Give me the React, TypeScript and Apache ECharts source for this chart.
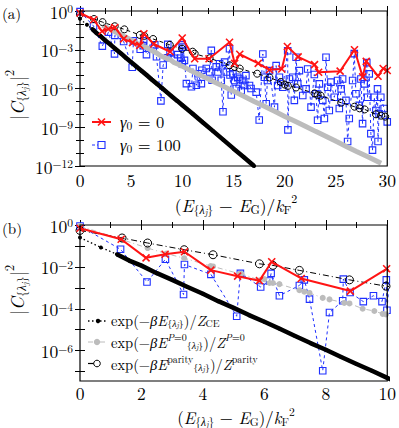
import React, { useEffect, useRef } from 'react';
import * as echarts from 'echarts';

const FONT = 'Latin Modern Roman, Liberation Serif, serif';
const RED = '#ff1414';
const BLUE = '#1f30ff';
const GRAY = '#bcbcbc';

// |C|^2 values: [E, value]
const redPts: [number, number][] = [
  [0, 0.7], [1.34, 0.21], [2.15, 0.027], [2.77, 0.04], [3.4, 0.053], [4.26, 0.007], [5.13, 0.0036],
  [5.84, 0.0022], [6.24, 0.0175], [7.2, 0.0028], [8.8, 0.0007], [9.98, 0.0081], [11.2, 2e-4],
  [12.6, 2e-4], [14.6, 3.8e-3], [15.1, 8.9e-5], [15.6, 4.5e-4], [17.4, 8.9e-5], [18.5, 2.8e-5],
  [19.7, 3.2e-5], [20.25, 1.8e-3], [21.3, 2.8e-4], [22.9, 7e-5], [23.3, 1.8e-5], [25.4, 2.2e-5],
  [26.8, 1e-3], [27.6, 7.9e-6], [27.95, 1.26e-4], [29.1, 8.9e-6], [29.6, 3.5e-5], [30.0, 2.5e-5],
];

const bluePts: [number, number][] = [
  [0, 0.9], [1.32, 0.069], [2.18, 0.0019], [2.78, 0.023], [3.37, 4.8e-4], [3.4, 0.013], [4.26, 0.0044],
  [5.1, 4.4e-5], [5.22, 0.0049], [5.88, 0.0011], [6.17, 0.0021], [6.22, 0.0049], [6.49, 4.2e-4],
  [7.14, 0.0013], [7.3, 0.0024], [7.47, 2.9e-4], [7.9, 1.1e-7], [8.12, 6.6e-5], [8.55, 2.4e-4],
  [8.57, 0.0026], [8.79, 6e-4], [9.22, 2.2e-4], [9.55, 4.2e-4], [9.83, 2.2e-4], [9.97, 0.0024],
  [9.99, 8.5e-5], [10.06, 1.6e-3], [10.2, 1.5e-4], [10.39, 2.4e-6], [10.88, 1.35e-6], [11.03, 3.5e-5],
  [11.36, 1.8e-6], [11.52, 1.4e-5], [11.85, 2.4e-6], [11.9, 2.6e-5], [12.33, 3.5e-5], [12.66, 1.9e-5],
  [12.82, 8.9e-4], [12.9, 4.4e-6], [13.3, 4.7e-5], [13.47, 1.9e-5], [13.63, 8.3e-5], [13.79, 4.4e-6],
  [13.96, 1.6e-8], [14.12, 1.1e-4], [14.28, 1.9e-5], [14.6, 1.2e-3], [14.65, 1.1e-5], [14.77, 3.1e-7],
  [14.93, 1.35e-5], [15.1, 4.2e-6], [15.26, 1e-6], [15.4, 7.4e-6], [15.58, 5.5e-6], [15.74, 7e-7],
  [15.9, 4.2e-6], [16.06, 1.7e-6], [16.2, 1e-5], [16.55, 1.7e-6], [16.7, 1e-6], [17.2, 5.2e-7],
  [17.5, 3.6e-9], [17.85, 4.7e-4], [18.0, 7.4e-6], [18.18, 6.6e-8], [18.3, 4.2e-6], [18.5, 2.4e-5],
  [18.99, 3.6e-8], [19.15, 5.9e-5], [19.3, 1.7e-6], [19.47, 7.4e-6], [19.8, 1.26e-6], [20.28, 8.3e-4],
  [20.3, 6.3e-10], [20.45, 5.5e-6], [20.77, 7.4e-6], [20.93, 1.2e-7], [21.1, 2.6e-4], [21.26, 2.3e-6],
  [21.42, 2.4e-5], [21.75, 2.9e-7], [22.07, 9.3e-7], [22.23, 3.2e-5], [22.56, 3.6e-8], [22.88, 1.2e-5],
  [23.04, 3.9e-7], [23.2, 3.5e-9], [23.37, 2.3e-6], [23.7, 1.2e-7], [23.86, 4.7e-9], [24.02, 2.6e-4],
  [24.18, 1.26e-6], [24.34, 2e-8], [24.5, 3.1e-6], [24.83, 2.1e-7], [25.15, 4.2e-6], [25.32, 2.8e-8],
  [25.5, 9.3e-7], [25.64, 5.5e-6], [25.97, 1.2e-7], [26.13, 7.9e-11], [26.29, 4.7e-9], [26.62, 4.2e-6],
  [26.78, 5e-4], [26.94, 3.9e-7], [27.27, 4.9e-8], [27.43, 5.5e-6], [27.59, 1.9e-9], [27.75, 2.3e-6],
  [28.0, 1e-4], [28.08, 2.1e-7], [28.24, 1.35e-5], [28.4, 3.2e-10], [28.56, 1.7e-11], [28.73, 2.1e-7],
  [28.89, 2e-8], [29.05, 9.3e-7], [29.1, 7.9e-11], [29.2, 1.1e-8], [29.37, 2.1e-7], [29.7, 2.8e-8],
  [30.0, 2.6e-9],
];

const parityPts: [number, number][] = [
  [0, 0.55], [1.37, 0.24], [2.2, 0.138], [3.39, 0.066], [4.33, 0.038], [5.84, 0.014], [6.28, 0.0118],
  [7.14, 0.0068], [8.77, 0.0024], [9.96, 0.0012], [11.0, 7.1e-4], [11.2, 5e-4], [12.66, 2.2e-4],
  [14.6, 6.3e-5], [15.1, 4.7e-5], [15.6, 3.5e-5], [17.3, 1.4e-5], [18.5, 7.1e-6], [19.6, 3.2e-6],
  [20.0, 2e-6], [20.3, 1.6e-6], [21.1, 1.2e-6], [22.9, 4.2e-7], [23.2, 3.1e-7], [23.5, 2.8e-7],
  [25.5, 7.9e-8], [26.8, 3.9e-8], [27.3, 2.9e-8], [27.8, 2.4e-8], [28.9, 1e-8], [29.4, 7.9e-9],
  [29.8, 6.6e-9],
];

const grayPts: [number, number][] = [
  [0, 0.9], [1.37, 0.2], [2.2, 0.079], [2.81, 0.043], [3.39, 0.026], [4.25, 0.011], [4.33, 0.0105],
  [5.19, 0.0047], [5.25, 0.0047], [5.85, 0.0023], [6.0, 0.0026], [6.17, 0.0017], [6.28, 0.0017],
  [6.49, 0.0015], [7.14, 7.7e-4], [7.3, 6.5e-4], [7.47, 5.7e-4], [7.9, 3.3e-4], [8.12, 2.8e-4],
  [8.6, 1.9e-4], [8.77, 1.8e-4], [9.2, 1.0e-4], [9.58, 7.8e-5], [9.85, 5.7e-5], [9.96, 5.4e-5],
  [11, 2.1e-5], [12, 8.7e-6], [13, 3.5e-6], [14, 1.5e-6], [15, 6e-7], [16, 2.5e-7], [17, 1e-7],
  [18, 4.2e-8], [19, 1.7e-8], [20, 6.9e-9], [21, 2.9e-9], [22, 1.2e-9], [23, 4.8e-10], [24, 2e-10],
  [25, 8.1e-11], [26, 3.3e-11], [27, 1.35e-11], [28, 5.6e-12], [29, 2.3e-12], [29.4, 1.6e-12],
];

const cePts: [number, number][] = [
  [0, 0.25], [0.68, 0.085], [1.2, 0.04], [1.6, 0.02], [2, 0.0115], [2.5, 0.005], [3, 0.0024],
  [3.5, 0.0011], [4, 5.2e-4], [4.5, 2.3e-4], [5, 1.1e-4], [5.5, 5e-5], [6, 2.4e-5], [6.5, 1.1e-5],
  [7, 5e-6], [7.5, 2.3e-6], [8, 1.1e-6], [8.5, 5e-7], [9, 2.3e-7], [9.5, 1.1e-7], [10, 5e-8],
  [11, 1.1e-8], [12, 2.3e-9], [13, 5e-10], [14, 1.05e-10], [15, 2.2e-11], [16, 4.8e-12], [17, 1e-12],
];

// axis ticks (exponents of 10 for y)
const topYLabelExps = [0, -3, -6, -9, -12];
const botYLabelExps = [0, -2, -4, -6];
const botYTickExps = [0, -1, -2, -3, -4, -5, -6, -7];

const toLog = (pts: [number, number][]) => pts.map(([x, v]) => [x, Math.log10(v)]);

let ctx: CanvasRenderingContext2D | null = null;
function measure(text: string, size: number, italic: boolean) {
  if (!ctx) ctx = document.createElement('canvas').getContext('2d');
  ctx!.font = `${italic ? 'italic ' : ''}${size}px ${FONT}`;
  return ctx!.measureText(text).width;
}

type Tok = { t: string; it?: boolean; s?: number; dy?: number };

function mathGroup(toks: Tok[], base: number, x: number, y: number, opts: { center?: boolean; rotate?: boolean } = {}) {
  const items: any[] = [];
  let cx = 0;
  for (const tk of toks) {
    const size = tk.s ?? base;
    const w = measure(tk.t, size, !!tk.it);
    items.push({
      type: 'text', x: cx, y: tk.dy || 0, silent: true,
      style: {
        text: tk.t, fontSize: size, fontFamily: FONT, fontStyle: tk.it ? 'italic' : 'normal',
        fill: '#000', align: 'left', verticalAlign: 'middle',
      },
    });
    cx += w;
  }
  const shift = opts.center ? -cx / 2 : 0;
  items.forEach((it) => (it.x += shift));
  return { type: 'group', x, y, rotation: opts.rotate ? Math.PI / 2 : 0, children: items };
}

const sub = (t: string, it = false, s = 12, dy = 4.5): Tok => ({ t, it, s, dy });
const lamj = (s: number, dy: number, ss: number, sdy: number): Tok[] => [
  sub('{', false, s, dy), sub('λ', true, s, dy), sub('j', true, ss, sdy), sub('}', false, s, dy),
];

const yTitle: Tok[] = [{ t: '|' }, { t: 'C', it: true }, ...lamj(12.6, 5, 9, 8), { t: '|' }, { t: '2', s: 12.6, dy: -7 }];
const xTitleTop: Tok[] = [
  { t: '(' }, { t: 'E', it: true }, ...lamj(12, 4.5, 8.5, 7), { t: ' − ' }, { t: 'E', it: true }, sub('G'),
  { t: ')/' }, { t: 'k', it: true }, sub('F'), sub('2', false, 12, -7),
];
const xTitleBot: Tok[] = [
  { t: '(' }, { t: 'E', it: true }, ...lamj(11.5, 4, 8, 6), { t: ' − ' }, { t: 'E', it: true }, sub('G', false, 11.5, 4),
  { t: ')/' }, { t: 'k', it: true }, sub('F', false, 11.5, 4), sub('2', false, 11.5, -6.5),
];

const LS = 10; // legend script size
const legCE: Tok[] = [
  { t: 'exp(−' }, { t: 'βE', it: true }, ...lamj(LS, 3.5, 7.5, 5.5), { t: ')/' }, { t: 'Z', it: true }, sub('CE', false, LS, 3.5),
];
const legP0: Tok[] = [
  { t: 'exp(−' }, { t: 'βE', it: true }, sub('P', true, LS, -5), sub('=0', false, LS, -5), ...lamj(LS, 3.5, 7.5, 5.5),
  { t: ')/' }, { t: 'Z', it: true }, sub('P', true, LS, -5), sub('=0', false, LS, -5),
];
const legPar: Tok[] = [
  { t: 'exp(−' }, { t: 'βE', it: true }, sub('parity', false, LS, -5), ...lamj(LS, 3.5, 7.5, 5.5),
  { t: ')/' }, { t: 'Z', it: true }, sub('parity', false, LS, -5),
];

const yLabelFmt = (v: number) => {
  const e = Math.round(v);
  return `{b|10}{s|${e === 0 ? '0' : '−' + -e}}`;
};
const yRich = {
  b: { fontSize: 17.5, fontFamily: FONT, color: '#000', lineHeight: 18 },
  s: { fontSize: 11.5, fontFamily: FONT, color: '#000', lineHeight: 10, verticalAlign: 'top' },
};

function xAxisDef(gridIndex: number, max: number, interval: number, top: boolean, margin: number) {
  return {
    type: 'value', gridIndex, min: 0, max, interval, position: top ? 'top' : 'bottom',
    axisLine: { show: false }, splitLine: { show: false },
    axisTick: { show: true, inside: true, length: 5, lineStyle: { color: '#000', width: 1 } },
    minorTick: { show: true, splitNumber: 2, length: 3, lineStyle: { color: '#000', width: 1 } },
    axisLabel: { show: !top, fontFamily: FONT, fontSize: 17.5, color: '#000', margin, lineHeight: 16 },
  };
}

function yAxisTop(right: boolean) {
  return {
    type: 'value', gridIndex: 0, min: -12, max: 0, interval: 3, position: right ? 'right' : 'left',
    axisLine: { show: false }, splitLine: { show: false },
    axisTick: { show: true, inside: true, length: 5, lineStyle: { color: '#000', width: 1 } },
    minorTick: { show: true, splitNumber: 3, length: 4, lineStyle: { color: '#000', width: 1 } },
    axisLabel: { show: !right, margin: 7, formatter: yLabelFmt, rich: yRich, customValues: topYLabelExps },
  };
}

function yAxisBot(right: boolean) {
  return {
    type: 'value', gridIndex: 1, min: -7.45, max: 0, position: right ? 'right' : 'left',
    axisLine: { show: false }, splitLine: { show: false },
    axisTick: { show: true, inside: true, length: 5, lineStyle: { color: '#000', width: 1 }, customValues: botYTickExps },
    minorTick: { show: false },
    axisLabel: { show: !right, margin: 7, formatter: yLabelFmt, rich: yRich, customValues: botYLabelExps },
  };
}

const XSYM = 'path://M0,0L10,10M10,0L0,10';

function panelSeries(xi: number, yi: number, top: boolean) {
  const base = { type: 'line', xAxisIndex: xi, yAxisIndex: yi, silent: true, clip: true };
  return [
    {
      ...base, name: 'blue', data: toLog(bluePts), symbol: 'rect', symbolSize: 6.5, z: 2,
      itemStyle: { color: 'rgba(255,255,255,0)', borderColor: BLUE, borderWidth: 1.1 },
      lineStyle: { color: BLUE, width: 1, type: [3, 3] },
    },
    top
      ? {
          ...base, name: 'gray', data: toLog(grayPts.filter((p) => p[0] >= 2)), symbol: 'none', z: 3,
          lineStyle: { color: GRAY, width: 5 },
        }
      : {
          ...base, name: 'gray', data: toLog(grayPts), symbol: 'circle', symbolSize: 6, z: 3,
          itemStyle: { color: GRAY, borderWidth: 0 },
          lineStyle: { color: GRAY, width: 1, type: [5, 3, 1, 3] },
        },
    {
      ...base, name: 'ce', data: toLog(cePts), symbol: 'circle', symbolSize: 4, z: 4,
      itemStyle: { color: '#000', borderWidth: 0 },
      lineStyle: { color: '#000', width: 1.3, type: [1.5, 2.5] },
    },
    {
      ...base, name: 'ceThick', data: toLog(cePts.filter((p) => p[0] >= 1.2)), symbol: 'none', z: 4,
      lineStyle: { color: '#000', width: 4.5 },
    },
    {
      ...base, name: 'parity', data: toLog(parityPts), symbol: 'circle', symbolSize: top ? 7 : 8, z: 5,
      itemStyle: { color: 'rgba(255,255,255,0)', borderColor: '#000', borderWidth: 1 },
      lineStyle: { color: '#000', width: 1, type: top ? [4, 3] : [6, 3, 1, 3] },
    },
    {
      ...base, name: 'red', data: toLog(redPts), symbol: XSYM, symbolSize: 7, z: 6,
      itemStyle: { color: RED, borderColor: RED, borderWidth: 1.6 },
      lineStyle: { color: RED, width: 2 },
    },
  ];
}

function legendGraphics() {
  const g: any[] = [];
  // top legend
  g.push({ type: 'line', shape: { x1: 92, y1: 122, x2: 111, y2: 122 }, style: { stroke: RED, lineWidth: 2 } });
  g.push({ type: 'line', shape: { x1: 98, y1: 118.5, x2: 105, y2: 125.5 }, style: { stroke: RED, lineWidth: 1.6 } });
  g.push({ type: 'line', shape: { x1: 98, y1: 125.5, x2: 105, y2: 118.5 }, style: { stroke: RED, lineWidth: 1.6 } });
  g.push(mathGroup([{ t: 'γ', it: true }, sub('0', false, 11.5, 4), { t: ' = 0' }], 16.5, 120, 121));
  g.push({ type: 'line', shape: { x1: 92, y1: 145, x2: 98, y2: 145 }, style: { stroke: BLUE, lineWidth: 1, lineDash: [3, 2] } });
  g.push({ type: 'rect', shape: { x: 98, y: 141.5, width: 7, height: 7 }, style: { stroke: BLUE, fill: '#fff', lineWidth: 1.1 } });
  g.push(mathGroup([{ t: 'γ', it: true }, sub('0', false, 11.5, 4), { t: ' = 100' }], 16.5, 120, 144));

  // bottom legend
  g.push({ type: 'line', shape: { x1: 88, y1: 321, x2: 107, y2: 321 }, style: { stroke: '#000', lineWidth: 1.3, lineDash: [1.5, 2.5] } });
  g.push({ type: 'circle', shape: { cx: 98, cy: 321, r: 2.2 }, style: { fill: '#000' } });
  g.push(mathGroup(legCE, 14.5, 111, 319.5));
  g.push({ type: 'line', shape: { x1: 88, y1: 342, x2: 107, y2: 342 }, style: { stroke: GRAY, lineWidth: 1, lineDash: [5, 3, 1, 3] } });
  g.push({ type: 'circle', shape: { cx: 97, cy: 342, r: 3.2 }, style: { fill: GRAY } });
  g.push(mathGroup(legP0, 14.5, 111, 341.5));
  g.push({ type: 'line', shape: { x1: 88, y1: 363.5, x2: 94, y2: 363.5 }, style: { stroke: '#000', lineWidth: 1.2 } });
  g.push({ type: 'circle', shape: { cx: 97, cy: 363.5, r: 3.3 }, style: { fill: '#fff', stroke: '#000', lineWidth: 1 } });
  g.push(mathGroup(legPar, 14.5, 111, 363.5));

  // axis titles
  g.push(mathGroup(yTitle, 18, 16, 95, { center: true, rotate: true }));
  g.push(mathGroup(yTitle, 18, 16, 290, { center: true, rotate: true }));
  g.push(mathGroup(xTitleTop, 17.5, 236, 204, { center: true }));
  g.push(mathGroup(xTitleBot, 16.8, 236, 417, { center: true }));

  g.push({ type: 'text', x: 2, y: 12, style: { text: '(a)', fontSize: 15, fontFamily: FONT, fill: '#000', verticalAlign: 'middle' } });
  g.push({ type: 'text', x: 2, y: 227, style: { text: '(b)', fontSize: 15, fontFamily: FONT, fill: '#000', verticalAlign: 'middle' } });
  return g;
}

export default function App() {
  const ref = useRef<HTMLDivElement>(null);
  useEffect(() => {
    if (!ref.current) return;
    const chart = echarts.init(ref.current, null, { renderer: 'svg' });
    chart.setOption({
      animation: false,
      backgroundColor: '#fff',
      textStyle: { fontFamily: FONT },
      grid: [
        { left: 80, top: 11, width: 309, height: 155, show: true, borderColor: '#000', borderWidth: 1.2, backgroundColor: 'transparent', z: 10 },
        { left: 80, top: 225, width: 309, height: 156, show: true, borderColor: '#000', borderWidth: 1.2, backgroundColor: 'transparent', z: 10 },
      ],
      xAxis: [xAxisDef(0, 30, 5, false, 5), xAxisDef(0, 30, 5, true, 5), xAxisDef(1, 10, 2, false, 3), xAxisDef(1, 10, 2, true, 3)],
      yAxis: [yAxisTop(false), yAxisTop(true), yAxisBot(false), yAxisBot(true)],
      series: [...panelSeries(0, 0, true), ...panelSeries(2, 2, false)],
      graphic: legendGraphics(),
    });
    return () => chart.dispose();
  }, []);
  return <div ref={ref} style={{ position: 'absolute', left: 0, top: 0, width: 399, height: 428 }} />;
}
